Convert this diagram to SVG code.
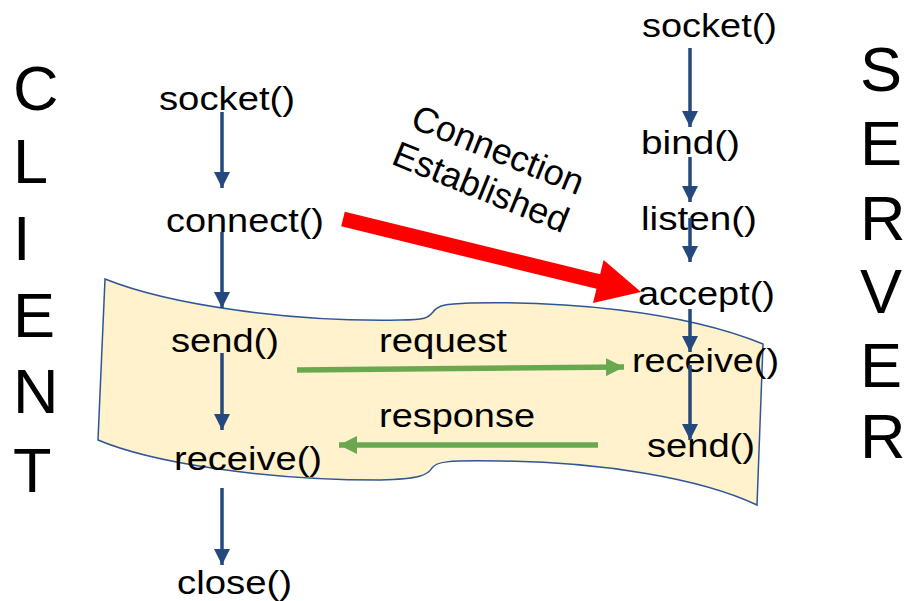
<svg xmlns="http://www.w3.org/2000/svg" width="905" height="601" viewBox="0 0 905 601">
<defs>
<style>
text{font-family:"Liberation Sans",Arial,sans-serif;fill:#000}
.lbl{font-size:34px}
.big{font-size:63px}
.rot{font-size:36px}
.blue{stroke:#24497E;stroke-width:3.5;fill:none;marker-end:url(#hb)}
.green{stroke:#6AA84F;stroke-width:5.5;fill:none;marker-end:url(#hg)}
</style>
<marker id="hb" markerUnits="userSpaceOnUse" markerWidth="16" markerHeight="16" refX="16" refY="8" orient="auto" viewBox="0 0 16 16">
<path d="M0,0 L16,8 L0,16 Z" fill="#24497E"/>
</marker>
<marker id="hg" markerUnits="userSpaceOnUse" markerWidth="18" markerHeight="18" refX="18" refY="9" orient="auto" viewBox="0 0 18 18">
<path d="M0,0 L18,9 L0,18 Z" fill="#6AA84F"/>
</marker>
</defs>
<rect width="905" height="601" fill="#fff"/>

<g id="wave">
<path d="M105,279 C170,305 290,322 400,320 C425,320 428,318 433,312 C438,305 445,304 470,303 C560,301 680,310 763,344 L757,505 C700,478 600,462 500,461 C445,460 436,462 432,468 C428,475 420,479 380,480 C260,480 150,462 98,440 Z" fill="#FFF2CC" stroke="#2F5597" stroke-width="1.5"/>
</g>

<g id="client-label">
<text class="big" x="13" y="110">C</text>
<text class="big" x="13" y="183">L</text>
<text class="big" x="13" y="260">I</text>
<text class="big" x="13" y="337">E</text>
<text class="big" x="13" y="413">N</text>
<text class="big" x="13" y="492">T</text>
</g>
<g id="server-label">
<text class="big" x="860" y="91">S</text>
<text class="big" x="860" y="165">E</text>
<text class="big" x="860" y="240">R</text>
<text class="big" x="860" y="313">V</text>
<text class="big" x="860" y="387">E</text>
<text class="big" x="860" y="458">R</text>
</g>

<g id="c-socket"><text class="lbl" x="159" y="110" textLength="136" lengthAdjust="spacingAndGlyphs">socket()</text></g>
<g id="c-connect"><text class="lbl" x="166" y="232" textLength="158" lengthAdjust="spacingAndGlyphs">connect()</text></g>
<g id="c-send"><text class="lbl" x="171" y="352" textLength="108" lengthAdjust="spacingAndGlyphs">send()</text></g>
<g id="c-receive"><text class="lbl" x="174" y="470" textLength="148" lengthAdjust="spacingAndGlyphs">receive()</text></g>
<g id="c-close"><text class="lbl" x="177" y="594" textLength="115" lengthAdjust="spacingAndGlyphs">close()</text></g>

<g id="s-socket"><text class="lbl" x="642" y="37" textLength="135" lengthAdjust="spacingAndGlyphs">socket()</text></g>
<g id="s-bind"><text class="lbl" x="641" y="154" textLength="99" lengthAdjust="spacingAndGlyphs">bind()</text></g>
<g id="s-listen"><text class="lbl" x="641" y="230" textLength="116" lengthAdjust="spacingAndGlyphs">listen()</text></g>
<g id="s-accept"><text class="lbl" x="638" y="305" textLength="137" lengthAdjust="spacingAndGlyphs">accept()</text></g>
<g id="s-receive"><text class="lbl" x="632" y="372" textLength="147" lengthAdjust="spacingAndGlyphs">receive()</text></g>
<g id="s-send"><text class="lbl" x="647" y="457" textLength="108" lengthAdjust="spacingAndGlyphs">send()</text></g>

<g id="request-label"><text class="lbl" x="379" y="352" textLength="128" lengthAdjust="spacingAndGlyphs">request</text></g>
<g id="response-label"><text class="lbl" x="379" y="427" textLength="156" lengthAdjust="spacingAndGlyphs">response</text></g>

<g id="connection-label" transform="translate(409,127) rotate(22)">
<text class="rot" x="0" y="0">Connection</text>
<text class="rot" x="-4" y="41">Established</text>
</g>

<g id="connectors">
<line class="blue" x1="222" y1="112" x2="222" y2="188"/>
<line class="blue" x1="222" y1="232" x2="222" y2="308"/>
<line class="blue" x1="222" y1="353" x2="222" y2="430"/>
<line class="blue" x1="222" y1="488" x2="222" y2="565"/>
<line class="blue" x1="690" y1="48" x2="690" y2="127"/>
<line class="blue" x1="690" y1="157" x2="690" y2="202"/>
<line class="blue" x1="690" y1="218" x2="690" y2="262"/>
<line class="blue" x1="690" y1="309" x2="690" y2="352"/>
<line class="blue" x1="690" y1="365" x2="690" y2="440"/>
<line class="green" x1="297" y1="370" x2="624" y2="367"/>
<line class="green" x1="598" y1="445" x2="339" y2="445"/>
<polygon id="red-arrow" points="344.8,211.7 600.1,274.2 603.6,260.1 641,292 593,302.9 596.5,288.8 341.2,226.3" fill="#FF0000"/>
</g>
</svg>
